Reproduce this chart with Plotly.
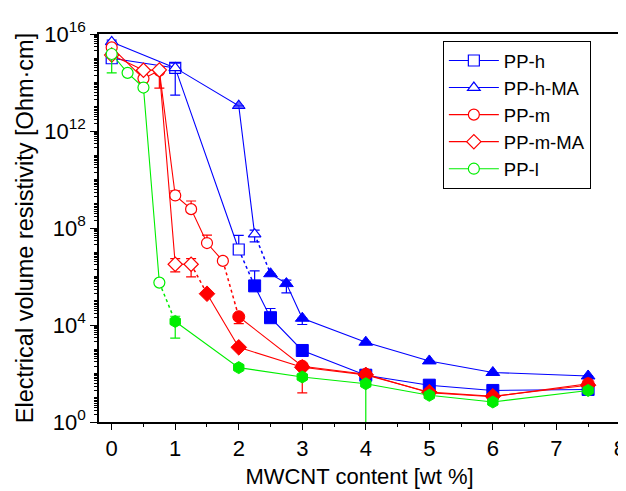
import plotly.graph_objects as go

# ---------------- data ----------------
# PP-h
pph_x = [0, 1, 2, 2.25, 2.5, 3, 4, 5, 6, 7.5]
pph_y = [1.0e15, 4.0e14, 1.3e7, 4.1e5, 2.0e4, 890, 85, 33, 20, 22]
pph_hi = [None, None, 5.0e7, 1.7e6, 4.8e4, None, None, None, None, None]
pph_lo = [None, None, None, None, None, None, None, None, None, None]
pph_open = 3

# PP-h-MA
pphma_x = [0, 1, 2, 2.25, 2.5, 2.75, 3, 4, 5, 6, 7.5]
pphma_y = [4.7e15, 4.0e14, 1.1e13, 5.6e7, 1.3e6, 5.1e5, 1.9e4, 1950, 330, 110, 79]
pphma_hi = [5.6e15, 6.3e14, None, 8.1e7, None, 7.1e5, None, None, None, None, None]
pphma_lo = [None, 3.0e13, None, 2.7e7, None, 2.1e5, 1.05e4, None, None, None, None]
pphma_open = 4

# PP-m
ppm_x = [0, 0.5, 0.75, 1, 1.25, 1.5, 1.75, 2, 3, 4, 5, 6, 7.5]
ppm_y = [2.8e15, 1.45e14, 3.1e14, 2.2e9, 6.0e8, 2.4e7, 4.4e6, 2.2e4, 200, 93, 16, 11, 38]
ppm_hi = [None, None, None, 3.4e9, 1.3e9, 5.1e7, None, None, None, None, None, None, None]
ppm_lo = [None, None, 5.9e13, None, None, None, None, 1.15e4, 16, None, None, None, None]
ppm_open = 7

# PP-m-MA
ppmma_x = [0, 0.5, 0.75, 1, 1.25, 1.5, 2, 3, 4, 5, 6, 7.5]
ppmma_y = [1.35e15, 3.2e14, 3.3e14, 3.2e6, 3.2e6, 1.95e5, 1200, 180, 88, 17, 11.5, 33]
ppmma_hi = [None, None, None, 5.5e6, 5.5e6, None, None, None, None, None, None, None]
ppmma_lo = [None, None, None, 1.55e6, 9.6e5, None, None, None, None, None, None, None]
ppmma_open = 5

# PP-l
ppl_x = [0, 0.25, 0.5, 0.75, 1, 2, 3, 4, 5, 6, 7.5]
ppl_y = [1.5e15, 2.5e14, 6.2e13, 5.6e5, 1.4e4, 175, 72, 38, 12.6, 6.7, 20]
ppl_hi = [None, None, None, None, 2.3e4, None, None, None, None, None, None]
ppl_lo = [2.5e14, None, None, None, 2.9e3, None, None, 0.3, None, None, None]
ppl_open = 4

y_tickvals = [1, 1e4, 1e8, 1e12, 1e16]
y_ticktext = ["10<sup>0</sup>", "10<sup>4</sup>", "10<sup>8</sup>", "10<sup>12</sup>", "10<sup>16</sup>"]
x_tickvals = [0, 1, 2, 3, 4, 5, 6, 7, 8]

series = [
    ("PP-h", pph_x, pph_y, pph_hi, pph_lo, pph_open, "#0000FF", "square", "square"),
    ("PP-h-MA", pphma_x, pphma_y, pphma_hi, pphma_lo, pphma_open, "#0000FF", "triangle-up", "triangle-up"),
    ("PP-m", ppm_x, ppm_y, ppm_hi, ppm_lo, ppm_open, "#FF0000", "circle", "circle"),
    ("PP-m-MA", ppmma_x, ppmma_y, ppmma_hi, ppmma_lo, ppmma_open, "#FF0000", "diamond", "diamond"),
    ("PP-l", ppl_x, ppl_y, ppl_hi, ppl_lo, ppl_open, "#00EE00", "circle", "hexagon"),
]

FONT = "Liberation Sans, Arial, sans-serif"
fig = go.Figure()


def errs(y, hi, lo):
    plus = [(h - v) if h is not None else 0 for v, h in zip(y, hi)]
    minus = [(v - l) if l is not None else 0 for v, l in zip(y, lo)]
    return plus, minus


for name, x, y, hi, lo, n, c, sym_open, sym_fill in series:
    plus, minus = errs(y, hi, lo)
    fig.add_trace(go.Scatter(
        x=x[n - 1:n + 1], y=y[n - 1:n + 1], mode="lines",
        line=dict(color=c, width=1.5, dash="dot"),
        showlegend=False, hoverinfo="skip"))
    fig.add_trace(go.Scatter(
        x=x[n:], y=y[n:], mode="lines+markers",
        line=dict(color=c, width=1.1),
        marker=dict(symbol=sym_fill, size=12, color=c, line=dict(color=c, width=1)),
        error_y=dict(type="data", symmetric=False, array=plus[n:], arrayminus=minus[n:],
                     color=c, thickness=1.2, width=5),
        showlegend=False))

for name, x, y, hi, lo, n, c, sym_open, sym_fill in series:
    plus, minus = errs(y, hi, lo)
    fills = ["white"] * n
    if name == "PP-h-MA":
        fills[2] = "rgba(40,40,255,0.75)"
    fig.add_trace(go.Scatter(
        x=x[:n], y=y[:n], mode="lines+markers", name=name,
        line=dict(color=c, width=1.1),
        marker=dict(symbol=sym_open, size=11, color=fills, line=dict(color=c, width=1.2)),
        error_y=dict(type="data", symmetric=False, array=plus[:n], arrayminus=minus[:n],
                     color=c, thickness=1.2, width=5),
        showlegend=True))

# minor tick positions for the log axis (2..9 within each decade, plus decades)
y_minor = [m * 10 ** d for d in range(0, 16) for m in range(1, 10) if not (m == 1 and d % 4 == 0)]

# the page adds an 8px body margin, so the figure is sized to fit inside it
fig.update_layout(
    width=618, height=483,
    margin=dict(l=91, r=6, t=26, b=69),
    paper_bgcolor="white", plot_bgcolor="white",
    font=dict(family=FONT, size=21, color="black"),
    legend=dict(x=0.66, y=0.982, xanchor="left", yanchor="top",
                bordercolor="black", borderwidth=1, bgcolor="white",
                font=dict(size=18.5), tracegroupgap=0, itemwidth=50),
    showlegend=True,
)
fig.update_xaxes(
    range=[-0.2, 8.002], tickvals=x_tickvals, ticks="outside", ticklen=6, tickwidth=1.3,
    tickcolor="black", showline=True, linecolor="black", linewidth=1.5, mirror=True,
    showgrid=False, zeroline=False, automargin=False,
    minor=dict(dtick=0.5, ticks="outside", ticklen=3, tickcolor="black", tickwidth=1),
    title=dict(text="MWCNT content [wt %]", font=dict(size=22), standoff=8),
    tickfont=dict(size=22),
)
fig.update_yaxes(
    type="log", range=[0, 16], tickvals=y_tickvals, ticktext=y_ticktext,
    ticks="outside", ticklen=7, tickwidth=1.3, tickcolor="black",
    showline=True, linecolor="black", linewidth=1.5, mirror=True,
    showgrid=False, zeroline=False, automargin=False,
    minor=dict(tickmode="array", tickvals=y_minor, ticks="outside", ticklen=3,
               tickcolor="black", tickwidth=1),
    title=dict(text="Electrical volume resistivity [Ohm·cm]", font=dict(size=23.5), standoff=4),
    tickfont=dict(size=22),
)

fig.write_html("out.html")
